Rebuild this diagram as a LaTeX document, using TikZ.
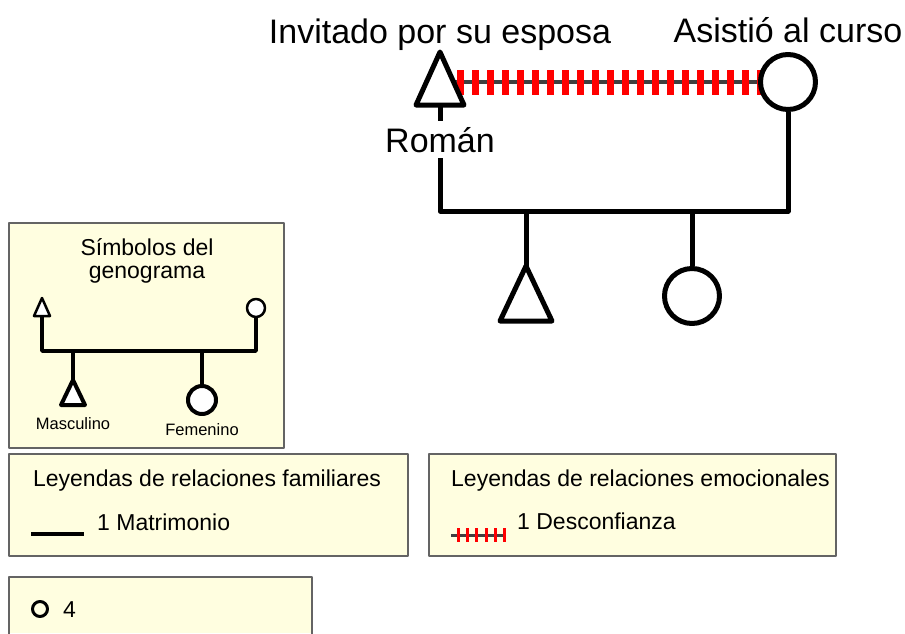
\documentclass[tikz,border=0pt]{standalone}
\usepackage{fontspec}
\setmainfont{Liberation Sans}
\usetikzlibrary{positioning}
\definecolor{legendfill}{RGB}{255,254,224}
\definecolor{legenddraw}{RGB}{100,100,100}
\definecolor{hatchgray}{RGB}{64,64,64}

\begin{document}
\begin{tikzpicture}[x=1pt,y=-1pt,line join=round,
    kin/.style={line width=5pt},
    person/.style={circle,draw,line width=5pt,fill=white,inner sep=0pt,minimum size=55pt},
    legendbox/.style={draw=legenddraw,line width=1.2pt,fill=legendfill},
    big/.style={font=\fontsize{34}{40}\selectfont,anchor=base,inner sep=0pt},
    mid/.style={font=\fontsize{23}{27}\selectfont,inner sep=0pt},
    small/.style={font=\fontsize{16.5}{20}\selectfont,anchor=base,inner sep=0pt}]
  \useasboundingbox (0,0) rectangle (905,633);

  % desconfianza
  \draw[line width=4pt,hatchgray] (452,82) -- (770,82);
  \foreach \i in {0,...,20}
    \fill[red] (457+15*\i,70) rectangle +(7,25);

  % pareja
  \coordinate (roman) at (440,52);
  \coordinate (romanpie) at (440,105);
  \draw[kin,fill=white] (roman) -- (464,105) -- (416,105) -- cycle;
  \node[person] (esposa) at (788,82) {};
  \coordinate (ul) at (440,211);
  \coordinate (ur) at (788,211);
  \draw[kin] (romanpie) -- (ul) -- (ur) -- (esposa.south);

  % hijos
  \coordinate (hijo) at (526,266);
  \coordinate (hijotop) at (526,211);
  \draw[kin] (hijotop) -- (hijo);
  \draw[kin] (hijo) -- (552,321) -- (500,321) -- cycle;
  \node[person] (hija) at (692,296) {};
  \coordinate (hijatop) at (692,211);
  \draw[kin] (hijatop) -- (hija.north);

  \node[big] (invitado) at (440,43) {Invitado por su esposa};
  \node[big] (asistio) at (788,42) {Asistió al curso};
  \node[big,fill=white,inner sep=6pt] (romanlbl) at (440,152) {Román};

  % simbolos
  \draw[legendbox] (9,223) rectangle (284,448);
  \node[mid,anchor=base] (sim1) at (147,255) {Símbolos del};
  \node[mid,anchor=base] (sim2) at (147,278) {genograma};
  \coordinate (sroman) at (42,298);
  \coordinate (srompie) at (42,316);
  \draw[line width=2.5pt,fill=white] (sroman) -- (50,316) -- (34,316) -- cycle;
  \node[circle,draw,line width=2.5pt,fill=white,inner sep=0pt,minimum size=18pt] (sesposa) at (256,308) {};
  \coordinate (sul) at (42,351);
  \coordinate (sur) at (256,351);
  \draw[line width=3.5pt] (srompie) -- (sul) -- (sur) -- (sesposa.south);
  \coordinate (shijotop) at (73,351);
  \coordinate (shijo) at (73,380);
  \draw[line width=3.5pt] (shijotop) -- (shijo);
  \draw[line width=4pt,fill=white] (shijo) -- (85,405) -- (61,405) -- cycle;
  \coordinate (shijatop) at (202,351);
  \node[circle,draw,line width=4pt,fill=white,inner sep=0pt,minimum size=28pt] (shija) at (202,400) {};
  \draw[line width=3.5pt] (shijatop) -- (shija.north);
  \node[small] (masc) at (73,429) {Masculino};
  \node[small] (fem) at (202,435) {Femenino};

  % relaciones familiares
  \draw[legendbox] (9,454) rectangle (408,556);
  \node[mid,anchor=base] (famtit) at (207,486) {Leyendas de relaciones familiares};
  \coordinate (matA) at (31,534);
  \coordinate (matB) at (84,534);
  \draw[line width=3.5pt] (matA) -- (matB);
  \node[mid,anchor=base west] (matrim) at (97,530) {1 Matrimonio};

  % relaciones emocionales
  \draw[legendbox] (429,454) rectangle (836,556);
  \node[mid,anchor=base west] (emotit) at (451,486) {Leyendas de relaciones emocionales};
  \coordinate (desA) at (451,535);
  \coordinate (desB) at (504,535);
  \draw[line width=3pt,hatchgray] (desA) -- (desB);
  \foreach \i in {0,...,5}
    \fill[red] (457+9.2*\i,528) rectangle +(3,14);
  \node[mid,anchor=base west] (desconf) at (517,529) {1 Desconfianza};

  % total
  \fill[legendfill] (9,577) rectangle (312,633);
  \draw[legenddraw,line width=1.2pt] (9,640) -- (9,577) -- (312,577) -- (312,640);
  \node[circle,draw,line width=3pt,inner sep=0pt,minimum size=15pt] (mujeres) at (40,609) {};
  \node[mid,anchor=base west] (cuatro) at (63,617) {4};
\end{tikzpicture}
\end{document}
